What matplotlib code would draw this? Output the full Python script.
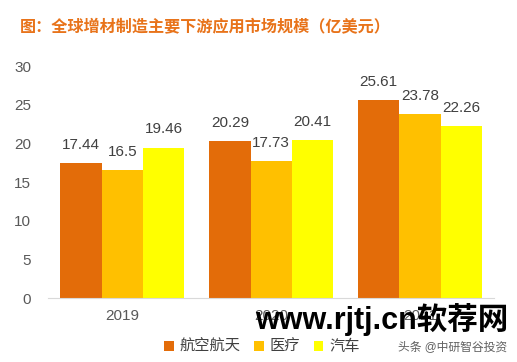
import matplotlib
matplotlib.use("Agg")
import matplotlib.pyplot as plt
import numpy as np

plt.rcParams['font.family'] = ['Liberation Sans', 'Noto Sans CJK SC', 'DejaVu Sans']

years = ["2019", "2020", "2021"]
series_names = ["航空航天", "医疗", "汽车"]
aero = [17.44, 20.29, 25.61]
medical = [16.5, 17.73, 23.78]
auto = [19.46, 20.41, 22.26]
values = [aero, medical, auto]
colors = ["#E36C09", "#FFC000", "#FFFF00"]
yticks = [0, 5, 10, 15, 20, 25, 30]

fig = plt.figure(figsize=(5.17, 3.62), dpi=100)
ax = fig.add_axes([48/517, 64/362, (494.5-48)/517, (296-64)/362])

x = np.arange(len(years))
w = 0.278
for i, (name, vals, c) in enumerate(zip(series_names, values, colors)):
    pos = x + (i - 1) * w
    ax.bar(pos, vals, width=w, color=c, label=name)
    for p, v in zip(pos, vals):
        ax.annotate(f"{v:g}", (p, v), xytext=(0, 13), textcoords="offset points",
                    ha="center", va="center", fontsize=11, color="#404040")

ax.set_xlim(-0.5, 2.5)
ax.set_ylim(0, 30)
ax.set_yticks(yticks)
ax.set_xticks(x)
ax.set_xticklabels(years)
for s in ["top", "right", "left"]:
    ax.spines[s].set_visible(False)
ax.spines["bottom"].set_color("#D9D9D9")
ax.tick_params(axis="both", length=0, labelsize=11, labelcolor="#595959")
ax.tick_params(axis="y", pad=12)
ax.tick_params(axis="x", pad=8)

fig.text(20/517, 1 - 27/362, "图：全球增材制造主要下游应用市场规模（亿美元）", fontsize=11.6,
         color="#E8731A", fontweight="bold", va="center", ha="left")

fig.legend(loc="center", bbox_to_anchor=(262/517, 15/362), ncol=3, frameon=False,
           fontsize=11, handlelength=0.6, handleheight=0.6, columnspacing=0.9,
           handletextpad=0.4, labelcolor="#404040")

fig.text(508/517, 1 - 320/362, "www.rjtj.cn软荐网", fontsize=22, fontweight="bold",
         color="black", ha="right", va="center")
fig.text(507/517, 1 - 347/362, "头条 @中研智谷投资", fontsize=8.5, color="#606060",
         ha="right", va="center")

fig.savefig("out.png", dpi=100)
